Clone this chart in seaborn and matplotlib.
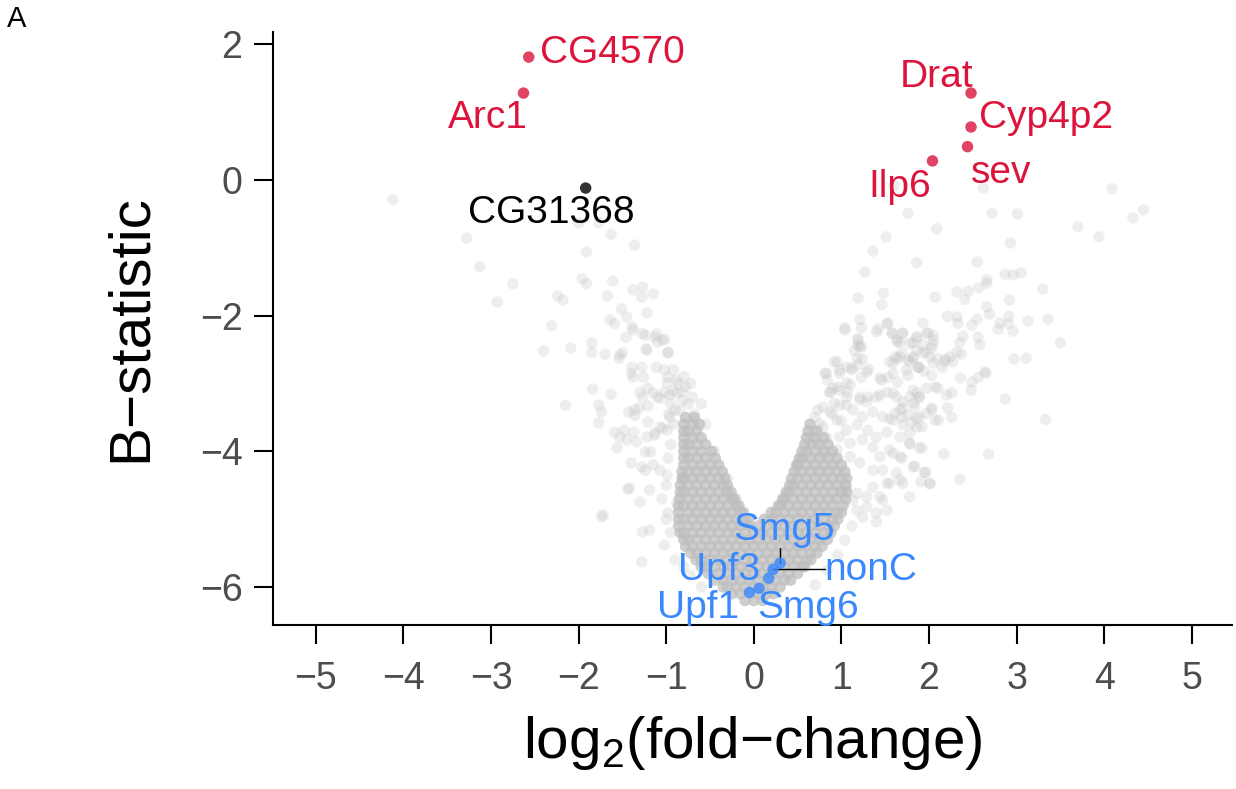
import numpy as np
import pandas as pd
import matplotlib
matplotlib.use("Agg")
import matplotlib.pyplot as plt
import seaborn as sns

# ---------------- data (log2 fold-change, B-statistic) ----------------
# sparse / outlying genes, upper tails
upper_left = [(-4.12, -0.29), (-3.28, -0.86), (-3.13, -1.28), (-2.75, -1.53), (-2.93, -1.80),
              (-2.31, -2.15), (-2.40, -2.52), (-2.09, -2.48), (-1.85, -2.40), (-1.85, -2.54),
              (-1.70, -2.57), (-1.53, -2.58), (-1.50, -2.55), (-1.63, -0.80), (-1.36, -0.96),
              (-1.91, -1.06), (-2.00, -0.63), (-1.77, -0.63), (-1.96, -1.46), (-1.91, -1.53),
              (-1.61, -1.49), (-1.67, -1.71), (-2.24, -1.71), (-2.18, -1.77), (-1.38, -1.62),
              (-1.27, -1.58), (-1.15, -1.68), (-1.28, -1.73), (-1.51, -1.90), (-1.45, -2.02),
              (-1.22, -1.96), (-1.64, -2.06), (-1.59, -2.12), (-1.39, -2.17), (-1.46, -2.32),
              (-1.27, -2.26), (-1.13, -2.32), (-1.22, -2.51), (-1.39, -2.76), (-1.28, -2.76),
              (-1.11, -2.27), (-1.02, -2.35), (-1.10, -2.39), (-1.23, -2.49), (-0.98, -2.54),
              (-1.54, -2.63), (-1.38, -2.21), (-1.24, -2.29), (-1.04, -2.36), (-0.98, -2.55)]
left_flank = [(-1.84, -3.08), (-1.63, -3.16), (-2.15, -3.32), (-1.77, -3.32), (-1.74, -3.42),
              (-1.77, -3.58), (-1.40, -2.85), (-1.38, -2.91), (-1.26, -2.91), (-1.11, -2.76),
              (-1.02, -2.80), (-0.92, -2.80), (-0.88, -2.95), (-0.98, -2.91), (-0.99, -2.99),
              (-1.30, -3.13), (-1.27, -3.20), (-1.21, -3.07), (-1.15, -3.14), (-1.10, -3.20),
              (-1.02, -3.13), (-0.96, -3.17), (-0.88, -3.14), (-0.81, -3.13), (-1.43, -3.42),
              (-1.36, -3.47), (-1.31, -3.36), (-1.21, -3.33), (-0.97, -3.45), (-0.95, -3.29),
              (-1.59, -3.72), (-1.48, -3.69), (-1.37, -3.72), (-1.22, -3.79), (-1.13, -3.73),
              (-1.04, -3.66), (-1.56, -3.95), (-1.45, -3.83), (-1.34, -3.86), (-1.24, -4.01),
              (-1.18, -4.01), (-1.53, -3.79), (-1.40, -4.17), (-1.24, -4.28), (-1.15, -4.20),
              (-1.44, -4.56), (-1.19, -4.57), (-1.30, -4.75), (-1.74, -4.96), (-1.28, -4.23),
              (-1.07, -4.28), (-0.99, -4.35), (-1.07, -3.22), (-0.92, -3.10), (-1.36, -3.39),
              (-1.21, -3.57), (-1.07, -3.64), (-1.13, -3.76), (-0.99, -3.69), (-0.96, -3.50),
              (-0.90, -3.39), (-1.72, -4.94), (-1.42, -4.54), (-1.27, -5.19), (-1.19, -5.16),
              (-1.28, -5.63), (-0.98, -4.91), (-0.88, -4.76), (-1.02, -5.38), (-0.90, -5.60),
              (-0.73, -5.83), (-0.95, -3.90), (-0.98, -4.10), (-1.00, -4.50), (-1.05, -4.70),
              (-1.00, -5.00), (-0.95, -5.20), (-0.80, -5.70), (-0.60, -6.00), (-0.92, -3.60),
              (-0.78, -3.05), (-0.72, -3.00), (-0.60, -3.30), (-0.55, -3.60), (-0.45, -4.00),
              (-0.30, -4.40), (-0.20, -4.70), (-0.82, -3.25), (-0.75, -3.30), (-0.70, -3.20),
              (-0.85, -3.40), (-0.68, -3.45), (-0.80, -2.90), (-0.86, -3.00)]
upper_right = [(4.09, -0.13), (4.45, -0.44), (4.33, -0.56), (3.70, -0.69), (3.94, -0.84),
               (3.01, -0.50), (2.72, -0.49), (2.62, -0.12), (1.60, -0.09), (1.76, -0.49),
               (2.09, -0.72), (1.51, -0.84), (1.36, -1.05), (1.86, -1.22), (1.27, -1.36),
               (2.55, -1.21), (2.93, -0.93), (2.87, -1.39), (2.96, -1.40), (3.05, -1.37),
               (2.66, -1.47), (1.19, -1.74), (1.48, -1.67), (1.46, -1.84), (2.07, -1.73),
               (2.32, -1.65), (2.41, -1.76), (2.45, -1.64), (2.57, -1.59), (2.66, -1.52),
               (2.92, -1.77), (3.30, -1.61), (2.66, -1.87), (2.69, -1.98), (2.55, -2.05),
               (2.91, -2.01), (2.91, -2.12), (2.96, -2.23), (2.79, -2.20), (2.81, -2.11),
               (3.13, -2.08), (3.36, -2.05), (3.50, -2.40), (2.97, -2.64), (3.11, -2.63),
               (2.64, -2.83), (2.21, -2.01), (2.32, -2.02), (2.33, -2.11), (2.49, -2.14),
               (2.39, -2.30), (2.56, -2.32), (2.58, -2.43), (2.87, -3.23), (3.33, -3.53),
               (2.68, -4.04), (2.17, -4.04), (2.35, -4.41)]
right_flank = [(1.93, -2.11), (1.99, -2.26), (2.05, -2.29), (1.82, -2.40), (1.86, -2.33),
               (1.70, -2.26), (1.58, -2.26), (1.42, -2.20), (1.52, -2.12), (1.21, -2.06),
               (1.23, -2.18), (2.35, -2.40), (2.32, -2.54), (2.24, -2.61), (2.18, -2.68),
               (2.10, -2.63), (2.01, -2.61), (1.93, -2.55), (2.03, -2.48), (1.86, -2.51),
               (1.69, -2.55), (1.64, -2.63), (1.59, -2.70), (1.78, -2.68), (1.19, -2.43),
               (1.18, -2.63), (1.24, -2.64), (1.84, -4.22), (1.96, -4.31), (1.91, -4.45),
               (2.01, -4.48), (1.89, -3.95), (1.78, -3.89), (1.69, -4.10), (1.59, -4.03),
               (2.37, -2.57), (2.27, -2.68), (2.19, -2.64), (2.15, -2.76), (2.03, -2.88),
               (1.94, -2.82), (1.88, -2.76), (2.36, -2.92), (2.49, -2.98), (2.48, -3.10),
               (2.56, -2.91), (2.65, -2.85), (2.26, -3.14), (2.20, -3.17), (2.10, -3.07),
               (2.21, -3.36), (2.26, -3.50), (2.11, -3.54), (2.07, -3.54), (2.03, -3.36),
               (1.97, -3.44), (1.82, -3.29), (1.86, -3.14), (1.78, -3.20), (1.70, -3.36),
               (1.69, -3.50), (1.61, -3.44), (1.55, -3.52), (1.80, -3.58), (1.86, -3.64),
               (1.89, -3.50), (1.78, -3.73), (1.70, -3.61), (1.19, -2.36), (1.21, -2.46),
               (1.15, -2.51), (1.04, -2.18), (1.53, -2.11), (1.63, -2.36), (1.67, -2.39),
               (1.61, -2.61), (1.76, -2.65), (1.82, -2.61), (1.87, -2.76), (1.93, -2.43),
               (2.04, -2.43), (0.81, -2.85), (0.84, -2.95), (0.92, -2.68), (0.98, -2.80),
               (1.06, -2.76), (1.12, -2.77), (1.23, -2.91), (1.31, -2.79), (1.46, -2.95),
               (1.53, -2.91), (1.64, -2.98), (1.76, -2.88), (0.90, -3.07), (0.96, -3.05),
               (1.06, -2.99), (1.07, -3.13), (0.87, -3.13), (0.73, -3.39), (0.79, -3.35),
               (0.92, -3.29), (1.06, -3.32), (1.21, -3.24), (1.30, -3.20), (1.44, -3.17),
               (1.59, -3.14), (1.70, -3.27), (1.84, -3.35), (1.89, -3.20)]
right_arm = [(1.04, -2.21), (1.19, -2.34), (1.23, -2.46), (1.40, -2.24), (1.58, -2.26),
             (1.64, -2.39), (1.78, -2.41), (1.70, -2.26), (1.86, -2.31), (1.97, -2.26),
             (2.05, -2.36), (1.97, -2.54), (1.82, -2.63), (1.67, -2.61), (1.55, -2.68),
             (1.89, -2.76), (2.05, -2.70), (1.74, -2.80), (1.59, -2.85), (1.44, -2.92),
             (1.29, -2.83), (1.19, -2.73), (1.12, -2.80), (0.95, -2.68), (0.98, -2.85),
             (0.83, -2.85), (0.87, -3.13), (0.98, -3.10), (1.10, -3.02), (1.06, -3.20),
             (1.21, -3.20), (1.29, -3.27), (1.40, -3.20), (1.52, -3.13), (1.63, -3.20),
             (1.82, -3.10), (1.89, -3.20), (1.97, -3.07), (2.07, -3.05), (2.03, -3.39),
             (1.86, -3.51), (1.92, -3.64), (1.76, -3.47), (1.67, -3.39), (1.59, -3.54),
             (1.47, -3.49), (1.36, -3.42), (1.24, -3.49), (1.13, -3.39), (0.98, -3.32),
             (0.87, -3.42), (0.79, -3.64), (0.95, -3.54), (1.06, -3.69), (1.18, -3.61),
             (1.30, -3.69), (1.40, -3.79), (1.52, -3.72), (1.67, -3.79), (1.78, -3.88),
             (1.92, -3.95), (1.67, -4.08), (1.55, -3.98), (1.44, -4.08), (1.36, -3.94),
             (1.24, -3.83), (1.10, -3.88), (0.98, -3.79), (0.83, -3.79), (0.72, -3.88),
             (0.64, -3.79), (0.79, -4.08), (0.95, -3.98), (1.21, -4.17), (1.10, -4.08),
             (1.36, -4.28), (1.47, -4.28), (1.63, -4.32), (1.82, -4.23), (1.95, -4.31),
             (2.01, -4.47), (1.70, -4.47), (1.52, -4.47), (1.44, -4.67), (1.52, -4.87),
             (1.40, -5.04), (1.29, -4.82), (1.18, -4.62), (1.06, -4.53), (1.36, -4.53),
             (1.02, -4.57), (1.13, -4.72), (1.29, -4.67), (1.40, -4.91), (1.47, -4.72),
             (1.55, -4.47), (1.67, -4.42), (1.24, -4.97), (1.18, -4.87), (1.78, -4.67),
             (1.04, -5.31), (0.96, -5.53), (0.84, -5.75), (0.70, -5.97), (1.12, -5.10),
             (0.70, -3.50), (0.75, -3.60), (0.68, -3.70), (0.90, -3.45), (1.00, -3.55)]

# dense V-shaped core of non-changing genes: B level -> log2FC values
core_levels = [-6.2, -6.1, -6.0, -5.9, -5.8, -5.7, -5.6, -5.5, -5.4, -5.3, -5.2, -5.1,
               -5.0, -4.9, -4.8, -4.7, -4.6, -4.5, -4.4, -4.3, -4.2, -4.1, -4.0, -3.9,
               -3.8, -3.7, -3.6, -3.5]
core_rows = [
    [-0.10, 0.0, 0.10],
    [-0.25, -0.15, -0.05, 0.05, 0.15, 0.22],
    [-0.35, -0.30, -0.20, -0.10, 0.0, 0.10, 0.20, 0.30],
    [-0.45, -0.35, -0.25, -0.15, -0.05, 0.05, 0.15, 0.25, 0.35, 0.42],
    [-0.52, -0.40, -0.30, -0.20, -0.10, 0.0, 0.10, 0.20, 0.30, 0.40, 0.50],
    [-0.60, -0.55, -0.45, -0.35, -0.25, -0.15, -0.05, 0.05, 0.15, 0.25, 0.35, 0.45, 0.55, 0.58],
    [-0.66, -0.60, -0.50, -0.40, -0.30, -0.20, -0.10, 0.0, 0.10, 0.20, 0.30, 0.40, 0.50, 0.60, 0.65],
    [-0.72, -0.65, -0.55, -0.45, -0.35, -0.25, -0.15, -0.05, 0.05, 0.15, 0.25, 0.35, 0.45, 0.55, 0.65, 0.72],
    [-0.78, -0.70, -0.60, -0.50, -0.40, -0.30, -0.20, -0.10, 0.0, 0.10, 0.20, 0.30, 0.40, 0.50, 0.60,
     0.70, 0.78],
    [-0.80, -0.75, -0.65, -0.55, -0.45, -0.35, -0.25, -0.15, -0.05, 0.05, 0.15, 0.25, 0.35, 0.45,
     0.55, 0.65, 0.75, 0.84],
    [-0.84, -0.80, -0.70, -0.60, -0.50, -0.40, -0.30, -0.20, -0.10, 0.0, 0.10, 0.20, 0.30, 0.40,
     0.50, 0.60, 0.70, 0.80, 0.88],
    [-0.86, -0.75, -0.65, -0.55, -0.45, -0.35, -0.25, -0.15, -0.05, 0.05, 0.15, 0.25, 0.35,
     0.45, 0.55, 0.65, 0.75, 0.85, 0.92],
    [-0.86, -0.80, -0.70, -0.60, -0.50, -0.40, -0.30, -0.20, -0.10, -0.06, 0.12, 0.20, 0.30, 0.40,
     0.50, 0.60, 0.70, 0.80, 0.90, 0.96],
    [-0.86, -0.75, -0.65, -0.55, -0.45, -0.35, -0.25, -0.15, -0.12, 0.20, 0.25, 0.35, 0.45,
     0.55, 0.65, 0.75, 0.85, 0.95, 1.0],
    [-0.86, -0.80, -0.70, -0.60, -0.50, -0.40, -0.30, -0.20, -0.17, 0.28, 0.30, 0.40, 0.50, 0.60,
     0.70, 0.80, 0.90, 1.02],
    [-0.85, -0.75, -0.65, -0.55, -0.45, -0.35, -0.25, -0.22, 0.33, 0.35, 0.45, 0.55, 0.65,
     0.75, 0.85, 0.95, 1.05],
    [-0.84, -0.80, -0.70, -0.60, -0.50, -0.40, -0.30, -0.26, 0.37, 0.40, 0.50, 0.60, 0.70, 0.80,
     0.90, 1.0, 1.06],
    [-0.84, -0.75, -0.65, -0.55, -0.45, -0.35, -0.30, 0.41, 0.45, 0.55, 0.65, 0.75, 0.85,
     0.95, 1.05],
    [-0.82, -0.80, -0.70, -0.60, -0.50, -0.40, -0.33, 0.43, 0.50, 0.60, 0.70, 0.80, 0.90, 1.0, 1.06],
    [-0.82, -0.75, -0.65, -0.55, -0.45, -0.36, 0.46, 0.55, 0.65, 0.75, 0.85, 0.95, 1.04],
    [-0.80, -0.70, -0.60, -0.50, -0.40, 0.49, 0.50, 0.60, 0.70, 0.80, 0.90, 1.0],
    [-0.80, -0.75, -0.65, -0.55, -0.44, 0.52, 0.55, 0.65, 0.75, 0.85, 0.95],
    [-0.80, -0.70, -0.60, -0.48, 0.55, 0.60, 0.70, 0.80, 0.90],
    [-0.80, -0.75, -0.65, -0.55, 0.58, 0.65, 0.75, 0.85],
    [-0.80, -0.70, -0.60, 0.60, 0.70, 0.80],
    [-0.80, -0.75, -0.65, 0.62, 0.72],
    [-0.80, -0.70, -0.62, 0.64],
    [-0.78, -0.68],
]

# highlighted genes
gene_names = ["CG4570", "Arc1", "CG31368", "Drat", "Cyp4p2", "sev", "Ilp6",
              "Smg5", "nonC", "Upf3", "Smg6", "Upf1"]
gene_lfc = [-2.57, -2.63, -1.92, 2.48, 2.48, 2.44, 2.04, 0.30, 0.22, 0.17, 0.06, -0.05]
gene_b = [1.81, 1.28, -0.12, 1.28, 0.78, 0.49, 0.28, -5.65, -5.74, -5.87, -6.02, -6.08]
gene_group = ["top", "top", "other", "top", "top", "top", "top",
              "nmd", "nmd", "nmd", "nmd", "nmd"]
# repelled label positions (centre x, baseline y)
label_lfc = [-1.62, -3.04, -2.31, 2.09, 3.34, 2.83, 1.67, 0.34, 1.34, -0.40, 0.62, -0.64]
label_b = [1.726, 0.767, -0.634, 1.372, 0.767, -0.044, -0.25, -5.31, -5.90, -5.90, -6.46, -6.46]
label_segment = [False, False, False, False, False, False, False,
                 True, True, False, False, False]

x_ticks = [-5, -4, -3, -2, -1, 0, 1, 2, 3, 4, 5]
y_ticks = [-6, -4, -2, 0, 2]

# ---------------- build tables ----------------
sparse = pd.DataFrame(upper_left + left_flank + upper_right + right_flank + right_arm,
                      columns=["logFC", "B"])
core = pd.DataFrame([(x, b) for b, row in zip(core_levels, core_rows) for x in row],
                    columns=["logFC", "B"])
genes = pd.DataFrame({"gene": gene_names, "logFC": gene_lfc, "B": gene_b,
                      "group": gene_group, "lx": label_lfc, "ly": label_b,
                      "seg": label_segment})

# ---------------- style ----------------
sns.set_theme(style="ticks")
plt.rcParams["font.family"] = ["Liberation Sans", "DejaVu Sans"]
plt.rcParams["mathtext.fontset"] = "custom"
plt.rcParams["mathtext.rm"] = "Liberation Sans"
plt.rcParams["mathtext.it"] = "Liberation Sans:italic"
plt.rcParams["mathtext.bf"] = "Liberation Sans:bold"

group_colors = {"top": "#DC143C", "other": "#000000", "nmd": "#3A88FE"}

fig = plt.figure(figsize=(12.36, 7.89), dpi=100)
ax = fig.add_axes([273 / 1236, 1 - 625 / 789, (1232 - 273) / 1236, (625 - 32) / 789])

sns.scatterplot(data=sparse, x="logFC", y="B", color="#BEBEBE", alpha=0.25, s=68,
                edgecolor="none", linewidth=0, ax=ax)
sns.scatterplot(data=core, x="logFC", y="B", color="#BEBEBE", alpha=0.75, s=68,
                edgecolor="none", linewidth=0, ax=ax)
sns.scatterplot(data=genes, x="logFC", y="B", hue="group", palette=group_colors,
                alpha=0.8, s=68, edgecolor="none", linewidth=0, legend=False, ax=ax, zorder=5)

ax.set_xlim(-5.49, 5.46)
ax.set_ylim(-6.56, 2.18)
ax.set_xticks(x_ticks)
ax.set_yticks(y_ticks)

texts = []
for _, r in genes.iterrows():
    t = ax.text(r.lx, r.ly, r.gene, color=group_colors[r.group], fontsize=28,
                ha="center", va="baseline", zorder=6)
    texts.append(t)

fig.canvas.draw()
renderer = fig.canvas.get_renderer()
inv = ax.transData.inverted()
for t, (_, r) in zip(texts, genes.iterrows()):
    if not r.seg:
        continue
    bb = t.get_window_extent(renderer)
    px, py = ax.transData.transform((r.logFC, r.B))
    ex = min(max(px, bb.x0), bb.x1)
    ey = min(max(py, bb.y0), bb.y1)
    (x0, y0), (x1, y1) = inv.transform((px, py)), inv.transform((ex, ey))
    ax.plot([x0, x1], [y0, y1], color="black", lw=1.0, zorder=4)

sns.despine(ax=ax)
for s in ["left", "bottom"]:
    ax.spines[s].set_linewidth(1.5)
    ax.spines[s].set_color("black")
ax.tick_params(axis="both", length=14, width=1.5, color="black",
               labelsize=27, labelcolor="#4D4D4D")
ax.tick_params(axis="x", pad=12)
ax.tick_params(axis="y", pad=8)

ax.set_xlabel(r"$\mathrm{log}_2\left(\mathrm{fold{-}change}\right)$", fontsize=42,
              color="black", labelpad=12)
ax.set_ylabel("B\u2212statistic", fontsize=42, color="black", labelpad=30)

fig.text(7 / 1236, 1 - 5 / 789, "A", fontsize=21, ha="left", va="top", color="black")

fig.savefig("out.png", dpi=100)
